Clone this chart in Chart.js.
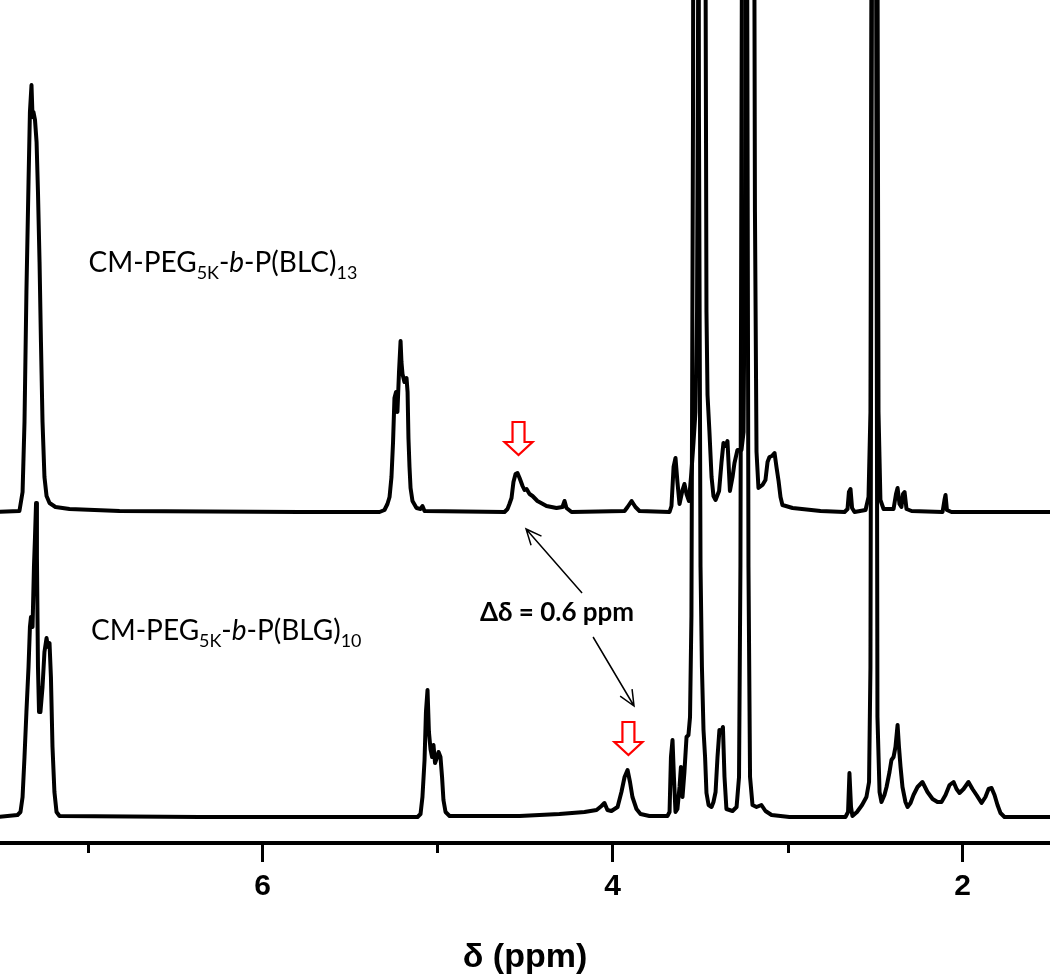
<!DOCTYPE html>
<html>
<head>
<meta charset="utf-8">
<script src="https://cdn.jsdelivr.net/npm/chart.js@4"></script>
<style>
  html, body { margin: 0; padding: 0; background: #fff; }
  #wrap { width: 1050px; height: 976px; }
</style>
</head>
<body>
<div id="wrap"><canvas id="nmr" width="1050" height="976"></canvas></div>
<script>
// chemical shift (ppm) and intensity
const blcPpm = [7.52, 7.389, 7.371, 7.36, 7.349, 7.337, 7.329, 7.32, 7.314, 7.309,
  7.3, 7.291, 7.283, 7.274, 7.266, 7.257, 7.246, 7.234, 7.217, 7.183,
  7.103, 6.817, 5.789, 5.331, 5.303, 5.286, 5.274, 5.263, 5.254, 5.246,
  5.237, 5.229, 5.22, 5.211, 5.206, 5.2, 5.189, 5.177, 5.171, 5.166,
  5.16, 5.154, 5.143, 5.12, 5.097, 5.086, 5.074, 4.617, 4.6, 4.589,
  4.577, 4.566, 4.554, 4.543, 4.531, 4.514, 4.503, 4.491, 4.474, 4.457,
  4.429, 4.377, 4.32, 4.286, 4.274, 4.263, 4.234, 3.931, 3.914, 3.891,
  3.869, 3.846, 3.674, 3.663, 3.651, 3.64, 3.629, 3.617, 3.6, 3.589,
  3.577, 3.563, 3.549, 3.537, 3.526, 3.517, 3.509, 3.5, 3.489, 3.477,
  3.469, 3.463, 3.457, 3.446, 3.434, 3.423, 3.411, 3.391, 3.377, 3.366,
  3.354, 3.343, 3.329, 3.314, 3.303, 3.286, 3.263, 3.251, 3.243, 3.234,
  3.214, 3.194, 3.186, 3.177, 3.166, 3.143, 3.126, 3.114, 3.103, 3.089,
  3.074, 3.063, 3.051, 3.04, 3.029, 2.971, 2.811, 2.674, 2.657, 2.649,
  2.64, 2.631, 2.617, 2.554, 2.537, 2.526, 2.514, 2.503, 2.491, 2.48,
  2.469, 2.451, 2.394, 2.38, 2.371, 2.36, 2.349, 2.34, 2.331, 2.32,
  2.291, 2.114, 2.103, 2.097, 2.089, 2.063, 1.486];
const blcInt = [0, 1, 20, 90, 220, 330, 400, 427, 395, 400,
  392, 370, 320, 250, 170, 90, 35, 16, 9, 5,
  3, 1, 0, 0, 2, 8, 15, 35, 70, 114,
  120, 100, 140, 171, 150, 138, 130, 134, 120, 74,
  45, 24, 11, 4, 3, 6, 1, 0, 3, 8,
  14, 30, 38, 39, 34, 26, 22, 23, 18, 16,
  11, 6, 4, 5, 11, 4, 0, 1, 5, 11,
  5, 1, 0, 6, 45, 54, 30, 8, 22, 28,
  18, 11, 40, 70, 100, 200, 600, 1500, 3000, 1500,
  600, 200, 117, 80, 35, 16, 12, 21, 50, 69,
  66, 71, 21, 35, 49, 62, 62, 80, 300, 900,
  3000, 900, 300, 60, 24, 27, 32, 50, 55, 56,
  59, 45, 31, 15, 7, 4, 1, 0, 3, 20,
  23, 4, 0, 2, 15, 100, 1000, 3000, 1000, 100,
  12, 3, 3, 18, 24, 8, 5, 18, 20, 3,
  1, 0, 12, 17, 2, 0, 0];

const blgPpm = [7.52, 7.4, 7.383, 7.371, 7.36, 7.349, 7.337, 7.329, 7.323, 7.314,
  7.306, 7.3, 7.294, 7.289, 7.283, 7.277, 7.269, 7.257, 7.246, 7.234,
  7.226, 7.217, 7.209, 7.2, 7.189, 7.177, 7.16, 6.36, 5.114, 5.097,
  5.086, 5.074, 5.066, 5.057, 5.049, 5.04, 5.031, 5.023, 5.014, 5.006,
  4.994, 4.983, 4.974, 4.966, 4.954, 4.931, 4.531, 4.303, 4.16, 4.091,
  4.063, 4.046, 4.029, 4.006, 3.971, 3.949, 3.931, 3.914, 3.9, 3.886,
  3.863, 3.84, 3.789, 3.686, 3.674, 3.666, 3.657, 3.649, 3.64, 3.629,
  3.617, 3.609, 3.6, 3.589, 3.577, 3.566, 3.557, 3.549, 3.54, 3.523,
  3.506, 3.497, 3.489, 3.48, 3.471, 3.463, 3.451, 3.434, 3.423, 3.411,
  3.4, 3.389, 3.377, 3.369, 3.36, 3.349, 3.314, 3.291, 3.277, 3.269,
  3.26, 3.246, 3.231, 3.223, 3.214, 3.2, 3.177, 3.149, 3.126, 3.091,
  2.989, 2.669, 2.654, 2.646, 2.637, 2.629, 2.603, 2.574, 2.549, 2.534,
  2.526, 2.517, 2.506, 2.494, 2.486, 2.474, 2.463, 2.446, 2.434, 2.417,
  2.406, 2.394, 2.383, 2.371, 2.363, 2.354, 2.343, 2.326, 2.314, 2.297,
  2.28, 2.257, 2.229, 2.2, 2.171, 2.143, 2.12, 2.097, 2.074, 2.051,
  2.034, 2.017, 1.994, 1.966, 1.943, 1.92, 1.891, 1.869, 1.851, 1.834,
  1.817, 1.8, 1.783, 1.76, 1.486];
const blgInt = [0, 2, 5, 20, 60, 105, 150, 190, 200, 190,
  250, 280, 314, 260, 150, 105, 105, 130, 165, 179,
  170, 174, 140, 70, 25, 5, 1, 0, 0, 3,
  20, 57, 105, 127, 85, 68, 60, 72, 54, 58,
  65, 60, 40, 17, 5, 1, 1, 3, 5, 7,
  11, 14, 7, 6, 10, 25, 40, 47, 35, 20,
  8, 3, 1, 1, 5, 60, 77, 40, 5, 8,
  30, 50, 20, 45, 80, 82, 100, 200, 700, 3000,
  700, 250, 150, 87, 60, 24, 12, 10, 15, 25,
  60, 87, 85, 90, 40, 8, 6, 10, 40, 250,
  900, 3000, 900, 250, 40, 12, 10, 12, 6, 2,
  0, 0, 5, 44, 10, 1, 5, 12, 20, 35,
  150, 900, 3000, 900, 100, 25, 15, 22, 30, 45,
  57, 60, 70, 92, 70, 50, 30, 15, 10, 14,
  22, 30, 35, 25, 18, 15, 15, 22, 32, 35,
  28, 24, 28, 35, 28, 22, 14, 20, 28, 29,
  22, 12, 4, 0, 0];

const majorTicks = [6, 4, 2];
const minorTicks = [7, 5, 3];

// vertical stacking of the two spectra
const BLC_OFFSET = 331;
const BLG_OFFSET = 26;

const toPoints = (ppm, ints, off) => ppm.map((p, i) => ({ x: p, y: ints[i] + off }));

// annotation anchors in data units (ppm, stacked intensity)
const notes = {
  blcLabel: { ppm: 6.994, y: 571 },
  blgLabel: { ppm: 6.98, y: 203 },
  delta: { ppm: 4.317, y: 222 },
  arrowUp: { from: [4.174, 250], to: [4.494, 314] },
  arrowDown: { from: [4.111, 206], to: [3.877, 137] },
  redUp: { ppm: 4.537, top: 421, tip: 388 },
  redDown: { ppm: 3.909, top: 121, tip: 88 }
};

function drawRich(ctx, x, y, runs, size) {
  let cx = x;
  runs.forEach(r => {
    const s = r.sub ? size * 0.64 : size;
    ctx.font = (r.italic ? "italic " : "") + s + "px Lato";
    ctx.fillText(r.t, cx, y + (r.sub ? size * 0.24 : 0));
    cx += ctx.measureText(r.t).width;
  });
}

function lineArrow(ctx, x1, y1, x2, y2) {
  const a = Math.atan2(y2 - y1, x2 - x1), h = 17;
  ctx.beginPath();
  ctx.moveTo(x1, y1); ctx.lineTo(x2, y2);
  ctx.moveTo(x2 - h * Math.cos(a - 0.42), y2 - h * Math.sin(a - 0.42));
  ctx.lineTo(x2, y2);
  ctx.lineTo(x2 - h * Math.cos(a + 0.42), y2 - h * Math.sin(a + 0.42));
  ctx.stroke();
}

function blockArrow(ctx, cx, top, tip) {
  const sw = 6, hw = 14, hh = 13;
  ctx.beginPath();
  ctx.moveTo(cx - sw, top); ctx.lineTo(cx + sw, top);
  ctx.lineTo(cx + sw, tip - hh); ctx.lineTo(cx + hw, tip - hh);
  ctx.lineTo(cx, tip); ctx.lineTo(cx - hw, tip - hh);
  ctx.lineTo(cx - sw, tip - hh); ctx.closePath();
  ctx.fillStyle = "#fff"; ctx.fill();
  ctx.strokeStyle = "#ff0000"; ctx.lineWidth = 2.2; ctx.stroke();
}

const extras = {
  id: "extras",
  afterDraw(chart) {
    const { ctx, scales: { x, y } } = chart;
    ctx.save();
    // minor ticks
    ctx.strokeStyle = "#000"; ctx.lineWidth = 3;
    minorTicks.forEach(v => {
      const px = Math.round(x.getPixelForValue(v)) + 0.5;
      ctx.beginPath(); ctx.moveTo(px, chart.chartArea.bottom); ctx.lineTo(px, chart.chartArea.bottom + 10); ctx.stroke();
    });
    // labels
    ctx.fillStyle = "#000"; ctx.textBaseline = "alphabetic"; ctx.textAlign = "left";
    drawRich(ctx, x.getPixelForValue(notes.blcLabel.ppm), y.getPixelForValue(notes.blcLabel.y), [
      { t: "CM-PEG" }, { t: "5K", sub: true }, { t: "-" }, { t: "b", italic: true },
      { t: "-P(BLC)" }, { t: "13", sub: true }], 28);
    drawRich(ctx, x.getPixelForValue(notes.blgLabel.ppm), y.getPixelForValue(notes.blgLabel.y), [
      { t: "CM-PEG" }, { t: "5K", sub: true }, { t: "-" }, { t: "b", italic: true },
      { t: "-P(BLG)" }, { t: "10", sub: true }], 28);
    ctx.font = "bold 26px Lato"; ctx.textAlign = "center";
    ctx.fillText("\u0394\u03b4 = 0.6 ppm", x.getPixelForValue(notes.delta.ppm), y.getPixelForValue(notes.delta.y));
    // thin arrows
    ctx.strokeStyle = "#000"; ctx.lineWidth = 1.5;
    [notes.arrowUp, notes.arrowDown].forEach(a => {
      lineArrow(ctx, x.getPixelForValue(a.from[0]), y.getPixelForValue(a.from[1]),
        x.getPixelForValue(a.to[0]), y.getPixelForValue(a.to[1]));
    });
    // red markers
    [notes.redUp, notes.redDown].forEach(r => {
      blockArrow(ctx, x.getPixelForValue(r.ppm), y.getPixelForValue(r.top), y.getPixelForValue(r.tip));
    });
    ctx.restore();
  }
};

new Chart(document.getElementById("nmr"), {
  type: "line",
  data: {
    datasets: [
      { label: "BLC", data: toPoints(blcPpm, blcInt, BLC_OFFSET) },
      { label: "BLG", data: toPoints(blgPpm, blgInt, BLG_OFFSET) }
    ]
  },
  options: {
    responsive: false,
    animation: false,
    devicePixelRatio: 1,
    layout: { padding: 0 },
    elements: {
      line: { borderColor: "#000", borderWidth: 4, tension: 0, borderJoinStyle: "round", fill: false },
      point: { radius: 0, hoverRadius: 0 }
    },
    plugins: { legend: { display: false }, tooltip: { enabled: false } },
    scales: {
      x: {
        type: "linear",
        reverse: true,
        min: 1.5,
        max: 7.5,
        afterBuildTicks: axis => { axis.ticks = majorTicks.map(v => ({ value: v })); },
        border: { display: true, color: "#000", width: 4 },
        grid: {
          drawOnChartArea: false,
          drawTicks: true,
          tickLength: 19,
          tickWidth: 3,
          tickColor: "#000"
        },
        ticks: {
          autoSkip: false,
          maxRotation: 0,
          padding: 7,
          color: "#000",
          font: { family: "'Liberation Sans', Arial", size: 30, weight: "bold", lineHeight: 1.2 },
          callback: v => String(v)
        },
        title: {
          display: true,
          text: "\u03b4 (ppm)",
          color: "#000",
          font: { family: "'Liberation Sans', Arial", size: 34, weight: "bold", lineHeight: 1 },
          padding: { top: 29, bottom: 1 }
        }
      },
      y: { display: false, min: 0, max: 843 }
    }
  },
  plugins: [extras]
});
</script>
</body>
</html>
